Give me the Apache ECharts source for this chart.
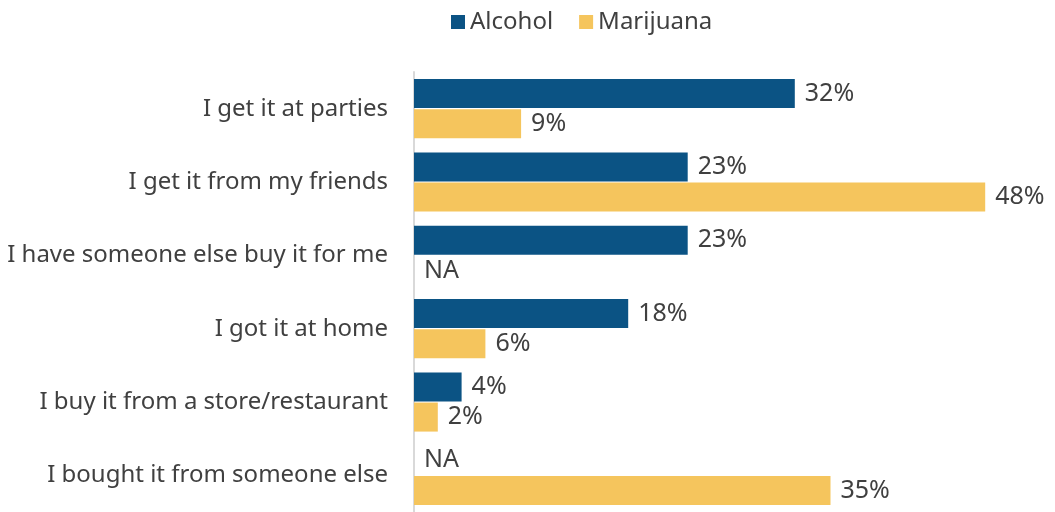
<!DOCTYPE html>
<html><head><meta charset="utf-8">
<script src="https://cdn.jsdelivr.net/npm/echarts@6/dist/echarts.min.js"></script>
<style>html,body{margin:0;padding:0;background:#fff}#c{width:1055px;height:512px}</style>
</head><body><div id="c"></div>
<script>
const categories = ['I get it at parties','I get it from my friends','I have someone else buy it for me','I got it at home','I buy it from a store/restaurant','I bought it from someone else'];
const alcohol = [32, 23, 23, 18, 4, null];
const marijuana = [9, 48, null, 6, 2, 35];
const seriesNames = ['Alcohol', 'Marijuana'];
const FONT = 'Noto Sans';
const TXT = '#404040';
function toData(arr){
  return arr.map(v => v === null ? {value:0, label:{formatter:'NA'}} : v);
}
const chart = echarts.init(document.getElementById('c'));
const labelCfg = {show:true, position:'right', distance:10, formatter: p => p.value + '%', color:TXT, fontFamily:FONT, fontSize:25};
chart.setOption({
  animation:false,
  textStyle:{fontFamily:FONT},
  legend:{top:5, left:446, itemWidth:14, itemHeight:14, itemGap:26, icon:'rect',
    textStyle:{fontFamily:FONT, fontSize:24, color:TXT}, data:seriesNames},
  grid:{left:414, right:46, top:72, bottom:-2, containLabel:false},
  xAxis:{type:'value', min:0, max:50, show:false},
  yAxis:{type:'category', inverse:true, data:categories,
    axisLine:{show:true, lineStyle:{color:'#d9d9d9', width:2}},
    axisTick:{show:false},
    axisLabel:{margin:26, color:TXT, fontFamily:FONT, fontSize:24}},
  series:[
    {name:seriesNames[0], type:'bar', data:toData(alcohol), barWidth:29, barGap:'4%', itemStyle:{color:'#0B5384'}, label:labelCfg},
    {name:seriesNames[1], type:'bar', data:toData(marijuana), barWidth:29, itemStyle:{color:'#F5C55D'}, label:labelCfg}
  ]
});
</script></body></html>
